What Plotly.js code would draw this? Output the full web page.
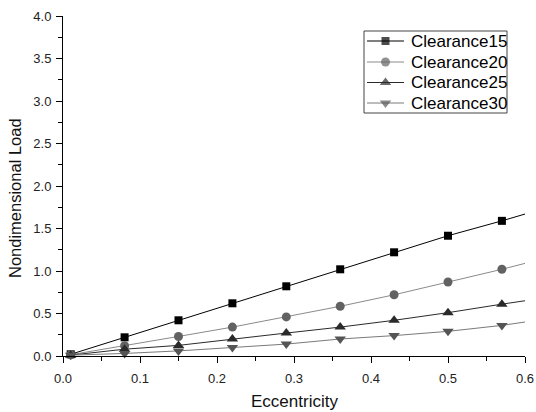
<!DOCTYPE html>
<html>
<head>
<meta charset="utf-8">
<script src="https://cdn.plot.ly/plotly-3.0.1.min.js"></script>
<style>html,body{margin:0;padding:0;background:#fff;}#chart{width:536px;height:412px;}</style>
</head>
<body>
<div id="chart"></div>
<script>
// Eccentricity values (x)
const eccentricity = [0.01, 0.08, 0.15, 0.22, 0.29, 0.36, 0.43, 0.50, 0.57];
// Nondimensional load per clearance
const clearance15 = [0.02, 0.22, 0.42, 0.62, 0.82, 1.02, 1.22, 1.415, 1.59];
const clearance20 = [0.015, 0.12, 0.23, 0.34, 0.46, 0.585, 0.72, 0.87, 1.02];
const clearance25 = [0.01, 0.08, 0.125, 0.20, 0.27, 0.34, 0.42, 0.51, 0.61];
const clearance30 = [0.01, 0.03, 0.06, 0.10, 0.14, 0.20, 0.24, 0.29, 0.36];
// Fitted line continues to the right edge of the axis
const lineEndX = 0.6;
const lineEnd = [1.67, 1.09, 0.65, 0.40];
const seriesNames = ["Clearance15", "Clearance20", "Clearance25", "Clearance30"];
const xTicks = [0.0, 0.1, 0.2, 0.3, 0.4, 0.5, 0.6];
const yTicks = [0.0, 0.5, 1.0, 1.5, 2.0, 2.5, 3.0, 3.5, 4.0];
const xTitle = "Eccentricity";
const yTitle = "Nondimensional Load";

const allSeries = [clearance15, clearance20, clearance25, clearance30];
const styles = [
  {symbol: "square", mcolor: "#000000", lcolor: "#000000", size: 8},
  {symbol: "circle", mcolor: "#626262", lcolor: "#8a8a8a", size: 9},
  {symbol: "triangle-up", mcolor: "#2a2a2a", lcolor: "#2a2a2a", size: 10},
  {symbol: "triangle-down", mcolor: "#555555", lcolor: "#7a7a7a", size: 10}
];

const traces = [];
allSeries.forEach((ys, i) => {
  const st = styles[i];
  const last = ys.length - 1;
  traces.push({
    x: [eccentricity[last], lineEndX],
    y: [ys[last], lineEnd[i]],
    mode: "lines",
    line: {color: st.lcolor, width: 1},
    showlegend: false,
    hoverinfo: "skip",
    cliponaxis: false
  });
});
allSeries.forEach((ys, i) => {
  const st = styles[i];
  traces.push({
    x: eccentricity,
    y: ys,
    name: seriesNames[i],
    mode: "lines+markers",
    line: {color: st.lcolor, width: 1},
    marker: {symbol: st.symbol, color: st.mcolor, size: st.size, line: {width: 0}},
    showlegend: false,
    cliponaxis: false
  });
});

// Hand-drawn legend on an overlay axis measured in pixels of the plot area
const fontFam = "Arial, 'Liberation Sans', sans-serif";
const legRows = [41, 62, 82.5, 103];
const annotations = [];
seriesNames.forEach((name, i) => {
  const st = styles[i];
  traces.push({
    x: [367, 385.5, 404],
    y: [legRows[i], legRows[i], legRows[i]],
    xaxis: "x2", yaxis: "y2",
    mode: "lines+markers",
    line: {color: st.lcolor, width: 1},
    marker: {symbol: st.symbol, color: st.mcolor, size: [0, st.size, 0], line: {width: 0}},
    showlegend: false, hoverinfo: "skip", cliponaxis: false
  });
  annotations.push({
    x: 409, y: legRows[i], xref: "x2", yref: "y2",
    text: name, showarrow: false, xanchor: "left", yanchor: "middle",
    font: {family: fontFam, size: 17, color: "#000000"}
  });
});
// Axis titles placed in paper coordinates
const plotL = 63, plotR = 525, plotT = 16, plotB = 356;
const px = v => (v - plotL) / (plotR - plotL);
const py = v => (plotB - v) / (plotB - plotT);
annotations.push({
  x: px(294), y: py(401), xref: "paper", yref: "paper", text: xTitle, showarrow: false,
  xanchor: "center", yanchor: "middle",
  font: {family: fontFam, size: 17, color: "#111111"}
});
annotations.push({
  x: px(15), y: py(198), xref: "paper", yref: "paper", text: yTitle, showarrow: false, textangle: -90,
  xanchor: "center", yanchor: "middle",
  font: {family: fontFam, size: 16.5, color: "#111111"}
});

const layout = {
  width: 536, height: 412,
  margin: {l: 63, r: 11, t: 16, b: 56},
  paper_bgcolor: "#ffffff",
  plot_bgcolor: "#ffffff",
  font: {family: fontFam, color: "#1a1a1a", size: 12},
  showlegend: false,
  xaxis: {
    range: [0, 0.6],
    tickvals: xTicks,
    ticktext: xTicks.map(v => v.toFixed(1)),
    showgrid: false, zeroline: false,
    showline: true, linecolor: "#000000", linewidth: 1,
    ticks: "outside", ticklen: 6, tickwidth: 1, tickcolor: "#000000",
    ticklabelstandoff: 4,
    minor: {dtick: 0.05, tick0: 0, ticks: "outside", ticklen: 4, tickcolor: "#000000", showgrid: false},
    tickfont: {size: 13, color: "#222222"}
  },
  yaxis: {
    range: [0, 4],
    tickvals: yTicks,
    ticktext: yTicks.map(v => v.toFixed(1)),
    showgrid: false, zeroline: false,
    showline: true, linecolor: "#000000", linewidth: 1,
    ticks: "outside", ticklen: 6, tickwidth: 1, tickcolor: "#000000",
    ticklabelstandoff: 2,
    minor: {dtick: 0.25, tick0: 0, ticks: "outside", ticklen: 4, tickcolor: "#000000", showgrid: false},
    tickfont: {size: 13, color: "#222222"}
  },
  xaxis2: {overlaying: "x", range: [63, 525], visible: false, fixedrange: true},
  yaxis2: {overlaying: "y", range: [356, 16], visible: false, fixedrange: true},
  shapes: [{
    type: "rect", xref: "x2", yref: "y2", x0: 364, x1: 507, y0: 31, y1: 113,
    line: {color: "#444444", width: 1}, fillcolor: "#ffffff", layer: "below"
  }],
  annotations: annotations
};

Plotly.newPlot("chart", traces, layout, {displayModeBar: false, staticPlot: true});
</script>
</body>
</html>
